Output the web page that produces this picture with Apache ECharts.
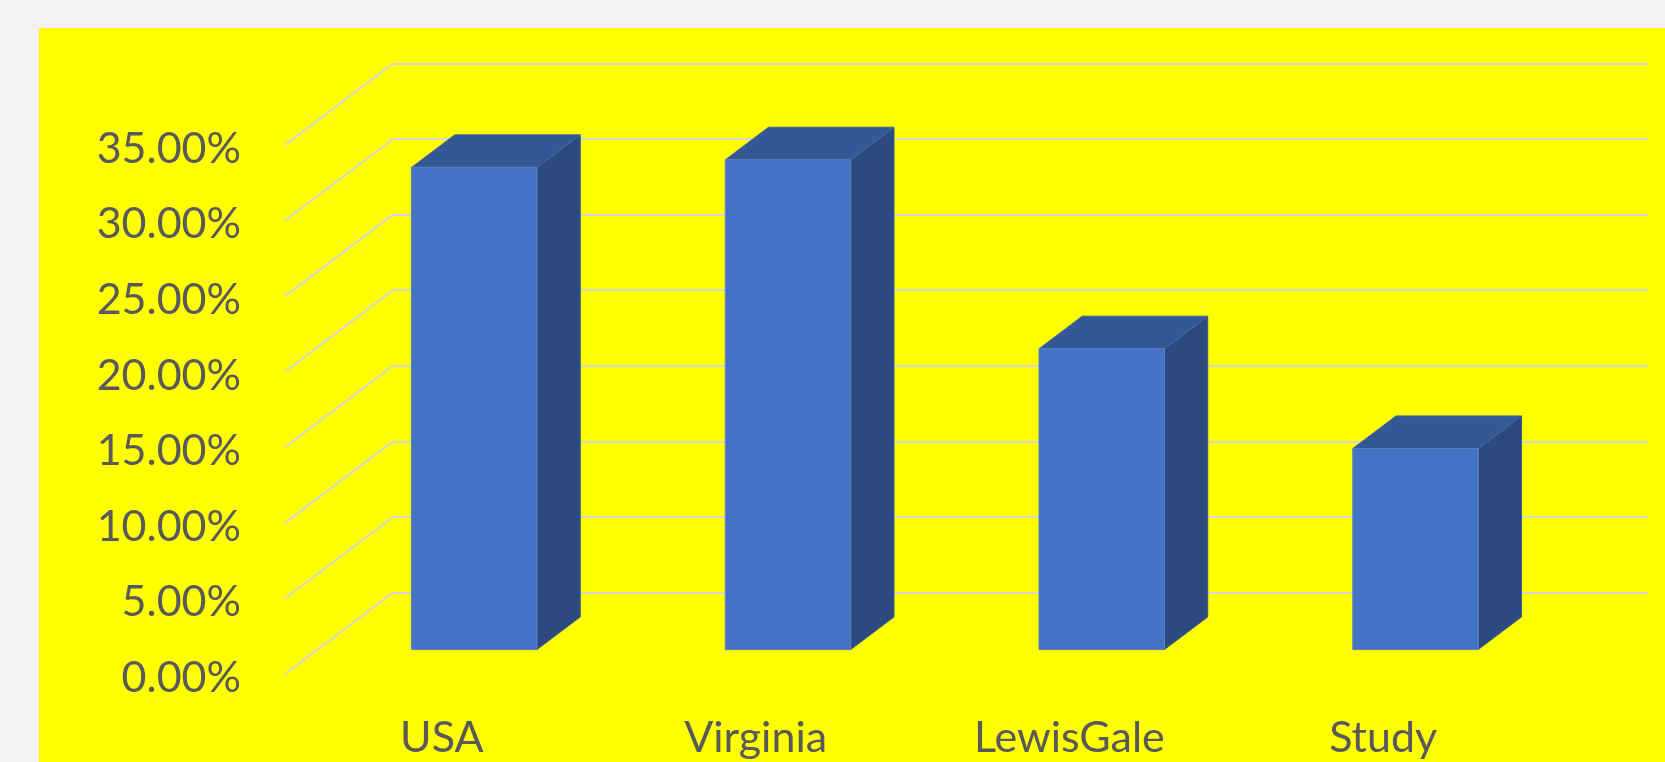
<!DOCTYPE html>
<html>
<head>
<meta charset="utf-8">
<script src="https://cdn.jsdelivr.net/npm/echarts@6/dist/echarts.min.js"></script>
<style>
  html, body { margin: 0; padding: 0; background: #f2f2f2; width: 1665px; height: 762px; overflow: hidden; }
  #chart { position: absolute; left: 39px; top: 28px; width: 1626px; height: 734px; background: #ffff00; }
</style>
</head>
<body>
<div id="chart"></div>
<script>
// ---- data ----
const categories = ['USA', 'Virginia', 'LewisGale', 'Study'];
const values = [31.9, 32.4, 19.9, 13.3];          // percent
const yTicks = [0, 5, 10, 15, 20, 25, 30, 35];      // percent

// ---- 3D projection (oblique) settings ----
const DX = 108, DY = -81.5;       // offset from front plane to back wall
const BAR_FRONT = 0.3, BAR_BACK = 0.7; // bar depth span (fraction of full depth)
const BAR_W = 0.4;                // bar width as fraction of category band
const FRONT = { left: 246, top: 117, width: 1255, height: 529 };

const chart = echarts.init(document.getElementById('chart'));
const font = 'Lato';
const labelColor = '#595959';
const gridColor = '#d6d6d6';

const option = {
  animation: false,
  grid: [
    { left: FRONT.left, top: FRONT.top, width: FRONT.width, height: FRONT.height },
    { left: FRONT.left + DX, top: FRONT.top + DY, width: FRONT.width, height: FRONT.height }
  ],
  xAxis: [
    {
      gridIndex: 0, type: 'category', data: categories,
      axisLine: { show: false }, axisTick: { show: false },
      axisLabel: { color: labelColor, fontFamily: font, fontSize: 43, margin: 43 }
    },
    {
      gridIndex: 1, type: 'category', data: categories, show: false
    }
  ],
  yAxis: [
    {
      gridIndex: 0, type: 'value', min: 0, max: 35, interval: 5,
      axisLine: { show: false }, axisTick: { show: false },
      splitLine: { show: false },
      axisLabel: {
        color: labelColor, fontFamily: font, fontSize: 43, margin: 44,
        verticalAlign: 'top', lineHeight: 8,
        formatter: v => v.toFixed(2) + '%'
      }
    },
    {
      gridIndex: 1, type: 'value', min: 0, max: 35, interval: 5,
      axisLine: { show: false }, axisTick: { show: false },
      axisLabel: { show: false },
      splitLine: { show: true, lineStyle: { color: gridColor, width: 2 } }
    }
  ],
  series: [
    {
      // side-wall diagonal gridlines
      type: 'custom', xAxisIndex: 0, yAxisIndex: 0, z: 1,
      data: yTicks.map(v => [0, v]),
      renderItem: function (params, api) {
        const x = params.coordSys.x;
        const y = api.coord([0, api.value(1)])[1];
        return {
          type: 'line',
          shape: { x1: x, y1: y, x2: x + DX, y2: y + DY },
          style: { stroke: gridColor, lineWidth: 2 }
        };
      }
    },
    {
      // 3D bars
      type: 'custom', xAxisIndex: 0, yAxisIndex: 0, z: 3,
      data: values.map((v, i) => [i, v]),
      renderItem: function (params, api) {
        const i = api.value(0), v = api.value(1);
        const base = api.coord([i, 0]);
        const top = api.coord([i, v]);
        const band = api.size([1, 0])[0];
        const w = band * BAR_W;
        const fx = BAR_FRONT * DX, fy = BAR_FRONT * DY;
        const dd = (BAR_BACK - BAR_FRONT);
        const ddx = dd * DX, ddy = dd * DY;
        const x0 = base[0] - w / 2 + fx, x1 = x0 + w;
        const yb = base[1] + fy, yt = top[1] + fy;
        return {
          type: 'group',
          children: [
            {
              type: 'polygon',
              shape: { points: [[x1, yt], [x1, yb], [x1 + ddx, yb + ddy], [x1 + ddx, yt + ddy]] },
              style: { fill: '#2c4a7e', stroke: '#3b5a8c', lineWidth: 1 }
            },
            {
              type: 'polygon',
              shape: { points: [[x0, yt], [x1, yt], [x1 + ddx, yt + ddy], [x0 + ddx, yt + ddy]] },
              style: { fill: '#345895', stroke: '#4266a2', lineWidth: 1 }
            },
            {
              type: 'rect',
              shape: { x: x0, y: yt, width: w, height: yb - yt },
              style: { fill: '#4472c4', stroke: '#5a80c4', lineWidth: 1 }
            }
          ]
        };
      }
    }
  ]
};
chart.setOption(option);
</script>
</body>
</html>
